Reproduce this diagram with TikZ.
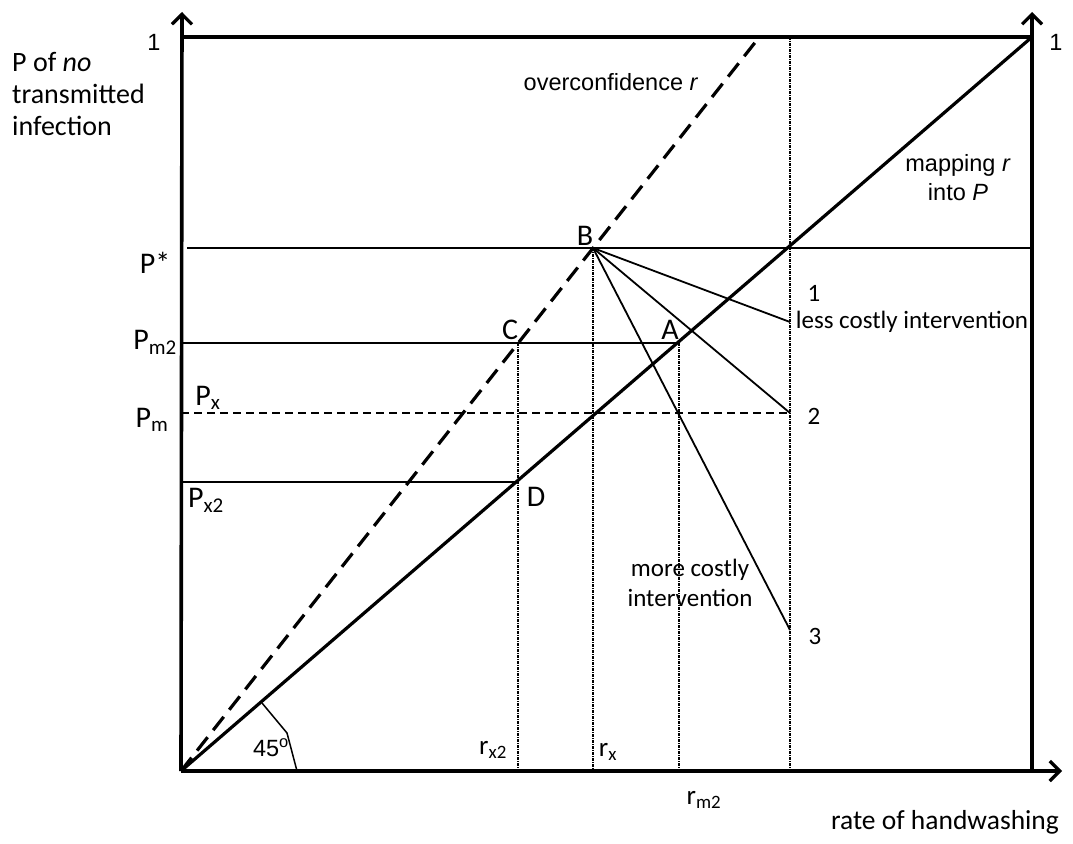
\documentclass[tikz,border=0pt]{standalone}
\usepackage{fontspec}
\setmainfont{Carlito}
\newfontfamily\arialf{Liberation Sans}
\usetikzlibrary{arrows.meta}
\begin{document}
\begin{tikzpicture}[x=1pt,y=-1pt,
  axis/.style={line width=3.6pt,-{Straight Barb[length=10pt,width=20pt,line width=3.2pt]}},
  frame/.style={line width=3.6pt},
  diag/.style={line width=3.2pt},
  overc/.style={line width=3.2pt,dash pattern=on 17pt off 9pt},
  thin/.style={line width=1.8pt},
  pmdash/.style={line width=1.6pt,dash pattern=on 8pt off 5pt},
  vdot/.style={line width=1.4pt,dash pattern=on 3pt off 1pt on 1pt off 1pt},
  cal/.style={font=\fontsize{25}{30}\selectfont,inner sep=0pt},
  calb/.style={font=\fontsize{30}{32}\selectfont,inner sep=0pt},
  rlab/.style={font=\fontsize{27}{30}\selectfont,inner sep=0pt},
  ar/.style={font=\arialf\fontsize{23.5}{29}\selectfont,inner sep=0pt}]
\useasboundingbox (0,0) rectangle (1073,843);
% key points
\coordinate (O) at (181,771);
\coordinate (YT) at (182,12);
\coordinate (XR) at (1062,771);
\coordinate (RB) at (1032,771);
\coordinate (RT) at (1032,12);
\coordinate (TL) at (182,37);
\coordinate (R1) at (1032,37);
\coordinate (E) at (757,40);
\coordinate (B) at (593,248);
\coordinate (A) at (679,343);
\coordinate (C) at (518,343);
\coordinate (D) at (516,482);
\coordinate (PsL) at (187,248);
\coordinate (PsR) at (1032,248);
\coordinate (Pm2L) at (181,343);
\coordinate (PmL) at (181,413);
\coordinate (Q2) at (790,413);
\coordinate (Px2L) at (181,482);
\coordinate (VT) at (790,37);
\coordinate (VB) at (790,771);
\coordinate (Q1) at (790,322);
\coordinate (Q3) at (790,630);
\coordinate (CB) at (518,771);
\coordinate (BB) at (593,771);
\coordinate (AB) at (679,771);
% thin lines
\draw[thin] (PsL) -- (PsR);
\draw[thin] (Pm2L) -- (A);
\draw[thin] (Px2L) -- (D);
\draw[pmdash] (PmL) -- (Q2);
\draw[vdot] (C) -- (CB);
\draw[vdot] (B) -- (BB);
\draw[vdot] (A) -- (AB);
\draw[vdot] (VT) -- (VB);
\draw[thin] (B) -- (Q1);
\draw[thin] (B) -- (Q2);
\draw[thin] (B) -- (Q3);
% angle mark
\draw[line width=1.5pt] (262,703) -- (287,733) -- (297,771);
% main lines
\draw[diag] (O) -- (R1);
\draw[overc] (O) -- (E);
\draw[frame] (TL) -- (R1);
\draw[axis] (O) -- (YT);
\draw[axis] (RB) -- (RT);
\draw[axis] (O) -- (XR);
% labels
\node[ar] (one1) at (154,42) {1};
\node[ar] (one2) at (1056,42) {1};
\node[font=\fontsize{28}{32}\selectfont,inner sep=0pt,align=left,anchor=west] (ylab) at (12,94) {P of \textit{no}\\transmitted\\infection};
\node[ar] (ovl) at (611,82) {overconfidence \textit{r}};
\node[ar,align=center] (mapl) at (958,178) {mapping \textit{r}\\into \textit{P}};
\node[calb] (ps) at (155,263) {P*};
\node[calb] (pm2) at (155,342) {P\textsubscript{m2}};
\node[calb] (px) at (208,398) {P\textsubscript{x}};
\node[calb] (pm) at (152,420) {P\textsubscript{m}};
\node[calb] (px2) at (206,500) {P\textsubscript{x2}};
\node[calb] (lB) at (585,236) {B};
\node[calb] (lC) at (510,330) {C};
\node[calb] (lA) at (670,330) {A};
\node[calb] (lD) at (536,497) {D};
\node[cal] (n1) at (814,293) {1};
\node[cal] (n2) at (814,416) {2};
\node[cal] (n3) at (815,636) {3};
\node[cal] (less) at (912,322) {less costly intervention};
\node[cal,align=center] (more) at (690,583) {more costly\\intervention};
\node[rlab] (rx2) at (493,750) {r\textsubscript{x2}};
\node[rlab] (rx) at (608,752) {r\textsubscript{x}};
\node[rlab] (rm2) at (704,800) {r\textsubscript{m2}};
\node[font=\fontsize{27.5}{30}\selectfont,inner sep=0pt] (xlab) at (945,822) {rate of handwashing};
\node[ar] (ang) at (271,748) {45\textsuperscript{o}};
\end{tikzpicture}
\end{document}
